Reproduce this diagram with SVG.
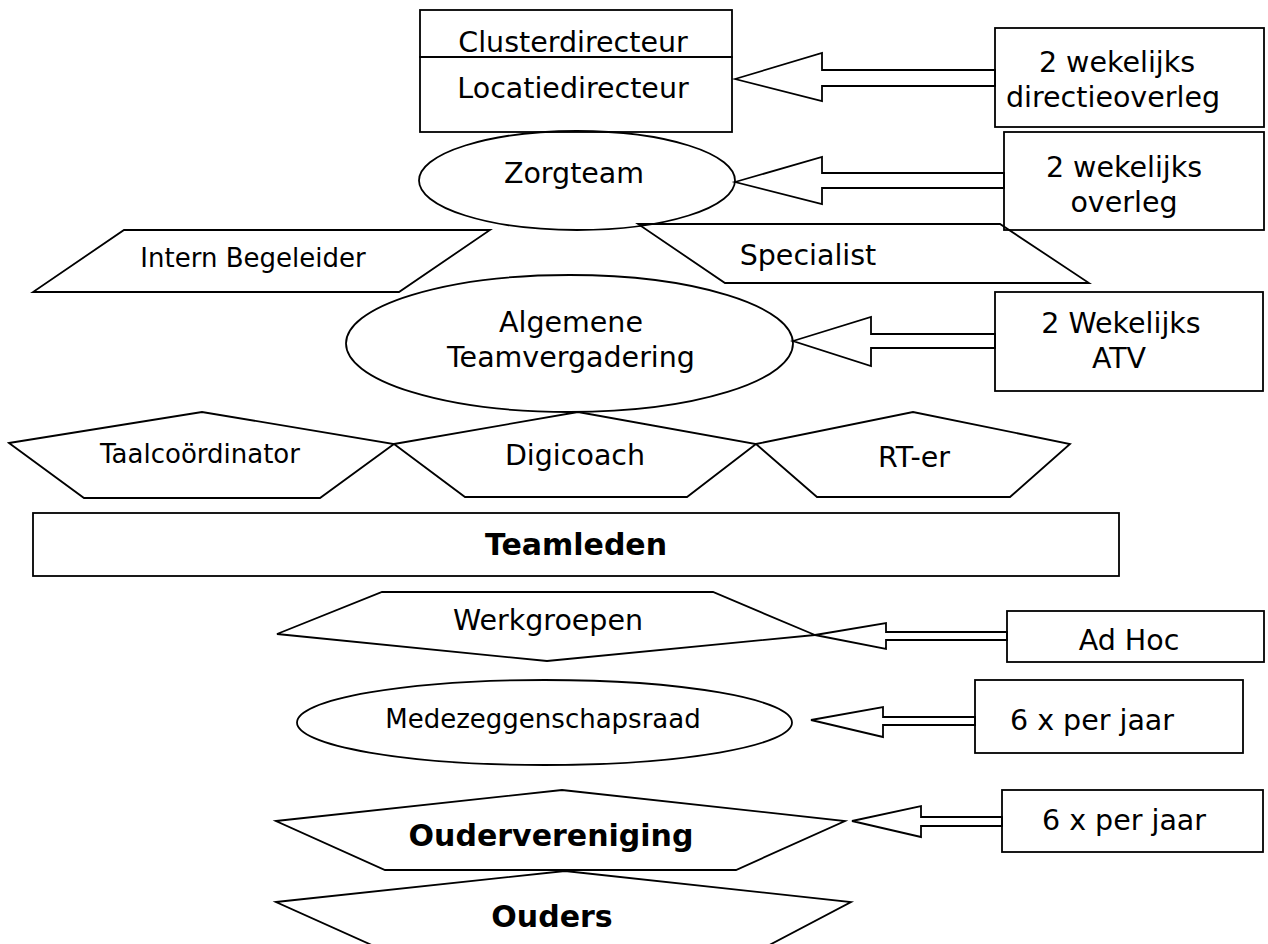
<svg xmlns="http://www.w3.org/2000/svg" width="1268" height="944" viewBox="0 0 1268 944">
<style>
.s{fill:none;stroke:#000;stroke-width:1.8;stroke-linejoin:miter}
.b{fill:#fff;stroke:#000;stroke-width:1.8}
.t{font-family:"DejaVu Sans","Verdana",sans-serif;font-size:28.5px;fill:#000;text-anchor:middle}
.sm{font-size:26px}
.bd{font-weight:bold;font-size:30px}
</style>
<rect width="1268" height="944" fill="#fff"/>
<g id="connectors">
<polygon class="s" points="735,79 822,53 822,70 995,70 995,86 822,86 822,101"/>
<polygon class="s" points="735,182 822,157 822,173 1004,173 1004,188 822,188 822,204"/>
<polygon class="s" points="793,341 871,317 871,334 995,334 995,348 871,348 871,366"/>
<polygon class="s" points="815,635 886,623 886,632 1007,632 1007,640 886,640 886,649"/>
<polygon class="s" points="811,720 883,707 883,717 975,717 975,725 883,725 883,737"/>
<polygon class="s" points="852,821 921,806 921,817 1002,817 1002,826 921,826 921,837"/>
</g>
<g id="clusterdirecteur">
<rect class="s" x="420" y="10" width="312" height="47"/>
<text class="t" x="573" y="52">Clusterdirecteur</text>
</g>
<g id="locatiedirecteur">
<rect class="s" x="420" y="57" width="312" height="75"/>
<text class="t" x="573" y="98">Locatiedirecteur</text>
</g>
<g id="directieoverleg">
<rect class="s" x="995" y="28" width="269" height="99"/>
<text class="t" x="1117" y="72">2 wekelijks</text>
<text class="t" x="1113" y="107">directieoverleg</text>
</g>
<g id="zorgteam">
<ellipse class="s" cx="577" cy="180.5" rx="158" ry="49.5"/>
<text class="t" x="574" y="183">Zorgteam</text>
</g>
<g id="overleg">
<rect class="s" x="1004" y="132" width="260" height="98"/>
<text class="t" x="1124" y="177">2 wekelijks</text>
<text class="t" x="1124" y="212">overleg</text>
</g>
<g id="intern-begeleider">
<polygon class="s" points="124,230 490,230 399,292 33,292"/>
<text class="t sm" x="253" y="267">Intern Begeleider</text>
</g>
<g id="specialist">
<polygon class="s" points="638,224 1000,224 1089,283 725,283"/>
<text class="t" x="808" y="265">Specialist</text>
</g>
<g id="algemene-teamvergadering">
<ellipse class="s" cx="569.5" cy="343.5" rx="223.5" ry="68.5"/>
<text class="t" x="571" y="332">Algemene</text>
<text class="t" x="571" y="367">Teamvergadering</text>
</g>
<g id="atv">
<rect class="s" x="995" y="292" width="268" height="99"/>
<text class="t" x="1121" y="333">2 Wekelijks</text>
<text class="t" x="1119" y="368">ATV</text>
</g>
<g id="taalcoordinator">
<polygon class="s" points="9,443 202,412 394,444 320,498 84,498"/>
<text class="t sm" x="200" y="463">Taalcoördinator</text>
</g>
<g id="digicoach">
<polygon class="s" points="394,444 578,412 756,444 687,497 465,497"/>
<text class="t" x="575" y="465">Digicoach</text>
</g>
<g id="rt-er">
<polygon class="s" points="756,444 913,412 1070,444 1010,497 817,497"/>
<text class="t" x="914" y="467">RT-er</text>
</g>
<g id="teamleden">
<rect class="s" x="33" y="513" width="1086" height="63"/>
<text class="t bd" x="576" y="555">Teamleden</text>
</g>
<g id="werkgroepen">
<polygon class="s" points="277,634 382,592 713,592 815,635 547,661"/>
<text class="t" x="548" y="630">Werkgroepen</text>
</g>
<g id="adhoc">
<rect class="s" x="1007" y="611" width="257" height="51"/>
<text class="t" x="1129" y="650">Ad Hoc</text>
</g>
<g id="medezeggenschapsraad">
<ellipse class="s" cx="544.5" cy="722.5" rx="247.5" ry="42.5"/>
<text class="t sm" x="543" y="728">Medezeggenschapsraad</text>
</g>
<g id="mr-freq">
<rect class="s" x="975" y="680" width="268" height="73"/>
<text class="t" x="1092" y="730">6 x per jaar</text>
</g>
<g id="oudervereniging">
<polygon class="s" points="276,821 562,790 845,821 736,870 385,870"/>
<text class="t bd" x="551" y="846">Oudervereniging</text>
</g>
<g id="ov-freq">
<rect class="s" x="1002" y="790" width="261" height="62"/>
<text class="t" x="1124" y="830">6 x per jaar</text>
</g>
<g id="ouders">
<polygon class="s" points="276,902 565,871 851,902 758,951 385,951"/>
<text class="t bd" x="552" y="927">Ouders</text>
</g>
</svg>
